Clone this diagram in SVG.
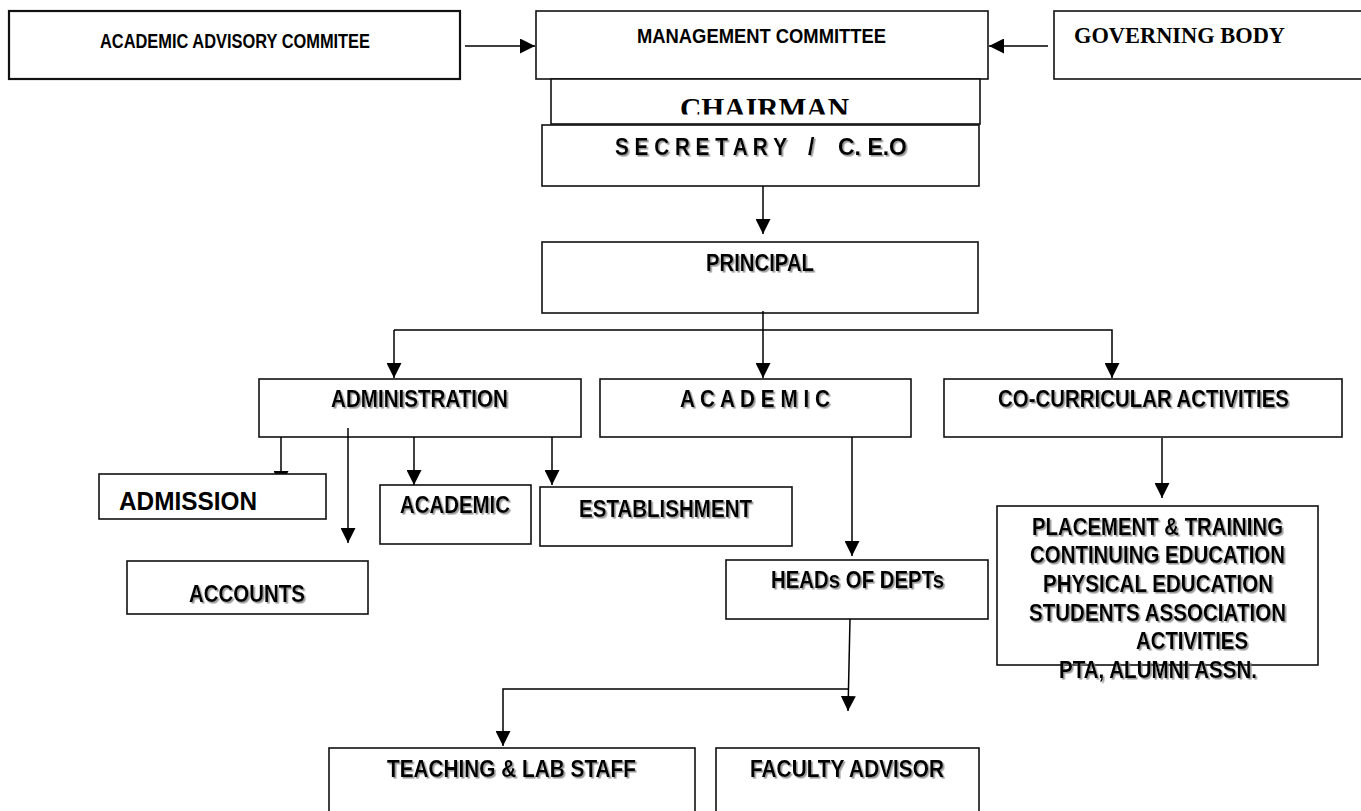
<svg xmlns="http://www.w3.org/2000/svg" width="1361" height="811" viewBox="0 0 1361 811">
<style>
.box{fill:#fff;stroke:#111;stroke-width:1.6}
.t{font-family:"Liberation Sans",Arial,sans-serif;font-weight:bold;fill:#000}
.s{font-family:"Liberation Serif","Times New Roman",serif;font-weight:bold;fill:#000}
.sh{filter:url(#shadow)}
.c{fill:none;stroke:#000;stroke-width:1.5}
</style>
<defs>
<marker id="ah" markerUnits="userSpaceOnUse" markerWidth="16" markerHeight="15" refX="15" refY="7.5" orient="auto">
<path d="M0,0 L15,7.5 L0,15 z" fill="#000"/>
</marker>
<filter id="shadow" x="-5%" y="-20%" width="110%" height="150%">
<feDropShadow dx="1.6" dy="1.6" stdDeviation="0.5" flood-color="#808080" flood-opacity="0.8"/>
</filter>
<clipPath id="chairclip"><rect x="551" y="79" width="429" height="35.5"/></clipPath>
</defs>

<g id="n-aac">
<rect class="box" x="9" y="11" width="451" height="68" style="stroke-width:2.2"/>
<text class="t" x="100" y="48" font-size="20" textLength="270" lengthAdjust="spacingAndGlyphs">ACADEMIC ADVISORY COMMITEE</text>
</g>
<g id="n-mc">
<rect class="box" x="536" y="11" width="452" height="68"/>
<text class="t" x="637" y="43" font-size="21" textLength="249" lengthAdjust="spacingAndGlyphs">MANAGEMENT COMMITTEE</text>
</g>
<g id="n-gb">
<rect class="box" x="1054" y="11" width="320" height="68"/>
<text class="s" x="1074" y="43" font-size="23" textLength="211" lengthAdjust="spacingAndGlyphs">GOVERNING BODY</text>
</g>
<g id="n-chairman">
<rect class="box" x="551" y="79" width="429" height="45"/>
<text class="s" x="680" y="118" font-size="29" textLength="169" lengthAdjust="spacingAndGlyphs" clip-path="url(#chairclip)">CHAIRMAN</text>
</g>
<g id="n-secretary">
<rect class="box" x="542" y="125" width="437" height="61"/>
<text class="t sh" y="155" font-size="23"><tspan x="615" textLength="172" lengthAdjust="spacingAndGlyphs">S E C R E T A R Y</tspan><tspan x="808">/</tspan><tspan x="838" textLength="69" lengthAdjust="spacingAndGlyphs">C. E.O</tspan></text>
</g>
<g id="n-principal">
<rect class="box" x="542" y="242" width="436" height="71"/>
<text class="t sh" x="706" y="271" font-size="24" textLength="108" lengthAdjust="spacingAndGlyphs">PRINCIPAL</text>
</g>
<g id="n-administration">
<rect class="box" x="259" y="379" width="322" height="58"/>
<text class="t sh" x="331" y="407" font-size="23" textLength="177" lengthAdjust="spacingAndGlyphs">ADMINISTRATION</text>
</g>
<g id="n-academic">
<rect class="box" x="600" y="379" width="311" height="58"/>
<text class="t sh" x="680" y="407" font-size="23" textLength="150" lengthAdjust="spacingAndGlyphs">A C A D E M I C</text>
</g>
<g id="n-cocurricular">
<rect class="box" x="944" y="379" width="398" height="58"/>
<text class="t sh" x="998" y="407" font-size="23" textLength="291" lengthAdjust="spacingAndGlyphs">CO-CURRICULAR ACTIVITIES</text>
</g>
<g id="n-academic2">
<rect class="box" x="380" y="485" width="151" height="59"/>
<text class="t sh" x="400" y="513" font-size="24" textLength="110" lengthAdjust="spacingAndGlyphs">ACADEMIC</text>
</g>
<g id="n-establishment">
<rect class="box" x="540" y="487" width="252" height="59"/>
<text class="t sh" x="579" y="517" font-size="24" textLength="173" lengthAdjust="spacingAndGlyphs">ESTABLISHMENT</text>
</g>
<g id="n-accounts">
<rect class="box" x="127" y="561" width="241" height="53"/>
<text class="t sh" x="189" y="602" font-size="23" textLength="116" lengthAdjust="spacingAndGlyphs">ACCOUNTS</text>
</g>
<g id="n-heads">
<rect class="box" x="726" y="560" width="262" height="59"/>
<text class="t sh" x="771" y="588" font-size="23" textLength="173" lengthAdjust="spacingAndGlyphs">HEADs OF DEPTs</text>
</g>
<g id="n-placement">
<rect class="box" x="997" y="506" width="321" height="159"/>
<text class="t sh" x="1032" y="535" font-size="23" textLength="251" lengthAdjust="spacingAndGlyphs">PLACEMENT &amp; TRAINING</text>
<text class="t sh" x="1030" y="563" font-size="23" textLength="255" lengthAdjust="spacingAndGlyphs">CONTINUING EDUCATION</text>
<text class="t sh" x="1043" y="592" font-size="23" textLength="230" lengthAdjust="spacingAndGlyphs">PHYSICAL EDUCATION</text>
<text class="t sh" x="1029" y="621" font-size="23" textLength="257" lengthAdjust="spacingAndGlyphs">STUDENTS ASSOCIATION</text>
<text class="t sh" x="1136" y="649" font-size="23" textLength="112" lengthAdjust="spacingAndGlyphs">ACTIVITIES</text>
<text class="t sh" x="1059" y="678" font-size="23" textLength="198" lengthAdjust="spacingAndGlyphs">PTA, ALUMNI ASSN.</text>
</g>
<g id="n-teaching">
<rect class="box" x="329" y="748" width="366" height="90"/>
<text class="t sh" x="387" y="777" font-size="23" textLength="249" lengthAdjust="spacingAndGlyphs">TEACHING &amp; LAB STAFF</text>
</g>
<g id="n-faculty">
<rect class="box" x="716" y="748" width="263" height="90"/>
<text class="t sh" x="750" y="777" font-size="23" textLength="194" lengthAdjust="spacingAndGlyphs">FACULTY ADVISOR</text>
</g>

<g id="connectors">
<line class="c" x1="465" y1="46" x2="535" y2="46" marker-end="url(#ah)"/>
<line class="c" x1="1048" y1="46" x2="989" y2="46" marker-end="url(#ah)"/>
<line class="c" x1="763" y1="186" x2="763" y2="234" marker-end="url(#ah)"/>
<line class="c" x1="763" y1="311" x2="763" y2="378" marker-end="url(#ah)"/>
<polyline class="c" points="394,330 1112,330 1112,378" marker-end="url(#ah)"/>
<line class="c" x1="394" y1="330" x2="394" y2="378" marker-end="url(#ah)"/>
<line class="c" x1="281" y1="437" x2="281" y2="486" marker-end="url(#ah)"/>
<line class="c" x1="348" y1="428" x2="348" y2="543" marker-end="url(#ah)"/>
<line class="c" x1="414" y1="437" x2="414" y2="485" marker-end="url(#ah)"/>
<line class="c" x1="552" y1="437" x2="552" y2="485" marker-end="url(#ah)"/>
<line class="c" x1="852" y1="437" x2="852" y2="556" marker-end="url(#ah)"/>
<line class="c" x1="1162" y1="438" x2="1162" y2="498" marker-end="url(#ah)"/>
<line class="c" x1="850" y1="619" x2="848" y2="711" marker-end="url(#ah)"/>
<polyline class="c" points="849,689 503,689 503,746" marker-end="url(#ah)"/>
</g>

<g id="n-admission">
<rect class="box" x="99" y="474" width="227" height="45"/>
<text class="t" x="119" y="510" font-size="25" textLength="138" lengthAdjust="spacingAndGlyphs">ADMISSION</text>
</g>
</svg>
